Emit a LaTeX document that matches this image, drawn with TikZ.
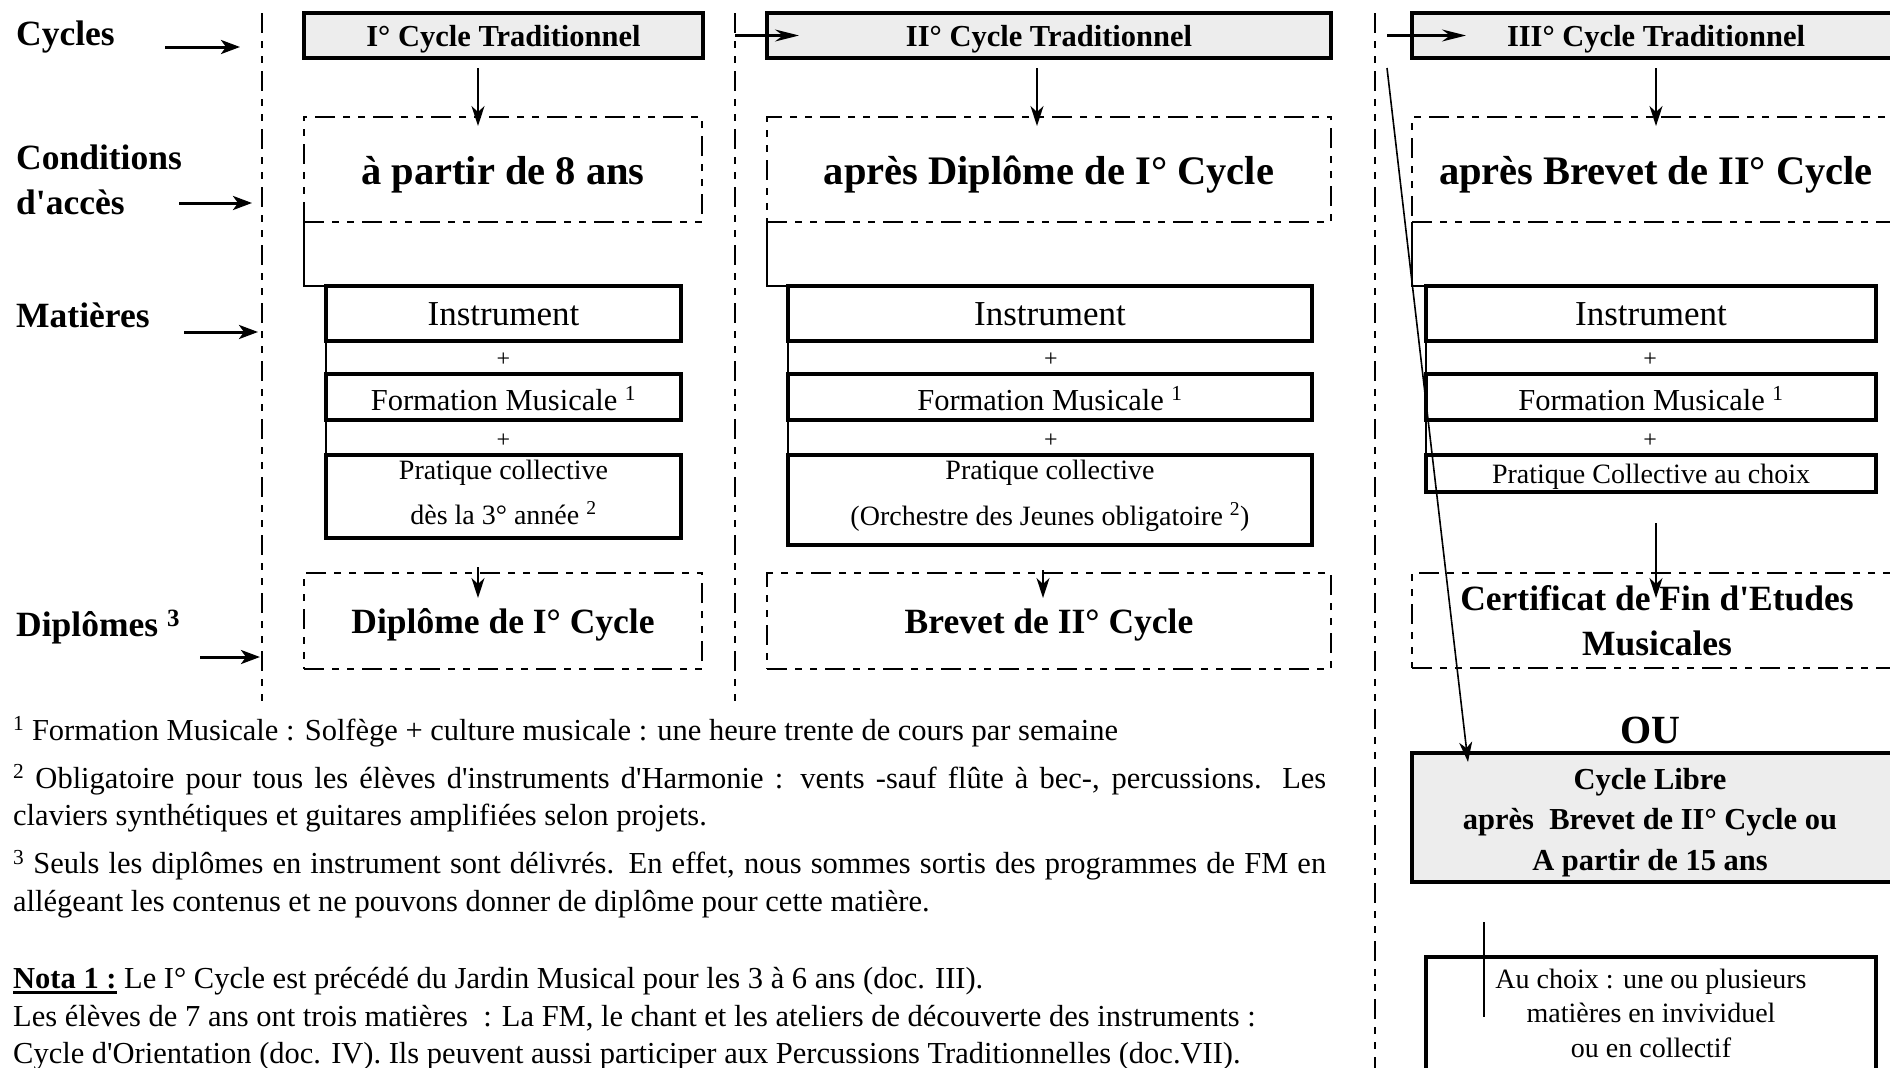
\documentclass[tikz,border=0pt]{standalone}
\usepackage{fontspec}
\setmainfont{Liberation Serif}
\newfontfamily\tnr{Liberation Serif}
\usetikzlibrary{arrows.meta}
\newcommand{\notaul}[1]{\leavevmode\setbox0\hbox{#1}\rlap{\rule[-5pt]{\wd0}{2.4pt}}\box0\relax}

\begin{document}
\begin{tikzpicture}[x=1pt,y=-1pt]
		\tnr
		\tikzstyle{gbox} = [draw, line width=4, fill=black!7, outer sep=0, inner sep=0]
		\tikzstyle{tbox} = [gbox, minimum height=45, font=\fontsize{30.5}{36}\selectfont\bfseries, text height=21pt, text depth=0pt]
		\tikzstyle{dbox} = [draw, line width=2.5, dash pattern=on 20pt off 8pt on 7pt off 8pt on 7pt off 8pt, outer sep=0, inner sep=0]
		\tikzstyle{condbox} = [dbox, minimum height=105, font=\fontsize{40.5}{48}\selectfont\bfseries, text height=30pt, text depth=0pt]
		\tikzstyle{diplbox} = [dbox, minimum height=96, font=\fontsize{35.5}{45}\selectfont\bfseries, text height=24pt, text depth=0pt]
		\tikzstyle{mbox} = [draw, line width=3.3, outer sep=0, inner sep=0]
		\tikzstyle{instbox} = [mbox, minimum height=55, font=\fontsize{35}{42}\selectfont, text height=23pt, text depth=0pt]
		\tikzstyle{fmbox} = [mbox, minimum height=46, font=\fontsize{30.5}{36}\selectfont, text height=26pt, text depth=0pt]
		\tikzstyle{divline} = [line width=2.5, dash pattern=on 20pt off 8pt on 7pt off 8pt on 7pt off 8pt]
		\tikzstyle{larrow} = [line width=3, -{Stealth[length=19pt,width=14pt,inset=5pt]}]
		\tikzstyle{harrow} = [line width=2.5, -{Stealth[length=24pt,width=12pt,inset=8pt]}]
		\tikzstyle{darrow} = [line width=1.6, -{Stealth[length=20pt,width=13pt,inset=6pt]}]
		\tikzstyle{link} = [line width=2.6]
		\tikzstyle{hair} = [line width=1.3]
		\tikzstyle{lbl} = [anchor=base west, inner sep=0, align=left, font=\fontsize{35.5}{45}\selectfont\bfseries]
		\tikzstyle{txt} = [anchor=base, inner sep=0, align=center]
		\tikzstyle{plussign} = [inner sep=0, font=\fontsize{24}{24}\selectfont]
		\tikzstyle{fnote} = [anchor=base west, inner sep=0, text width=1313pt, align=justify, font=\fontsize{30.5}{37.5}\selectfont]
		\useasboundingbox (0,0) rectangle (1890,1068);
		\clip (0,0) rectangle (1890,1068);
		% dividers
		\coordinate (d1t) at (262,13);
		\coordinate (d1b) at (262,703);
		\coordinate (d2t) at (735,13);
		\coordinate (d2b) at (735,703);
		\coordinate (d3t) at (1375,13);
		\coordinate (d3b) at (1375,1068);
		\draw [divline] (d1t) -- (d1b);
		\draw [divline] (d2t) -- (d2b);
		\draw [divline] (d3t) -- (d3b);
		% left labels (base = last line)
		\node [lbl] (lcyc) at (16,45) {Cycles};
		\node [lbl] (lcond) at (16,214) {Conditions\\d'accès};
		\node [lbl] (lmat) at (16,327) {Matières};
		\node [lbl] (ldip) at (16,636) {Diplômes \textsuperscript{3}};
		\coordinate (a1) at (165,47);
		\coordinate (a1e) at (240,47);
		\coordinate (a2) at (179,203);
		\coordinate (a2e) at (252,203);
		\coordinate (a3) at (184,332);
		\coordinate (a3e) at (258,332);
		\coordinate (a4) at (200,657);
		\coordinate (a4e) at (260,657);
		\draw [larrow] (a1) -- (a1e);
		\draw [larrow] (a2) -- (a2e);
		\draw [larrow] (a3) -- (a3e);
		\draw [larrow] (a4) -- (a4e);
		% cycles
		\node [tbox, minimum width=399] (cyc1) at (503.5,35.5) {I° Cycle Traditionnel};
		\node [tbox, minimum width=564] (cyc2) at (1049,35.5) {II° Cycle Traditionnel};
		\node [tbox, minimum width=488] (cyc3) at (1656,35.5) {III° Cycle Traditionnel};
		% conditions
		\node [condbox, minimum width=398] (cond1) at (503,169.5) {à partir de 8 ans};
		\node [condbox, minimum width=564] (cond2) at (1049,169.5) {après Diplôme de I° Cycle};
		\node [condbox, minimum width=488] (cond3) at (1656,169.5) {après Brevet de II° Cycle};
		% matieres
		\node [instbox, minimum width=355] (instr1) at (503.5,313.5) {Instrument};
		\node [instbox, minimum width=524] (instr2) at (1050,313.5) {Instrument};
		\node [instbox, minimum width=450] (instr3) at (1651,313.5) {Instrument};
		\node [plussign] (pl1a) at (503.5,360) {+};
		\node [plussign] (pl2a) at (1051,360) {+};
		\node [plussign] (pl3a) at (1650,360) {+};
		\node [fmbox, minimum width=355] (fm1) at (503.5,397) {Formation Musicale \textsuperscript{1}};
		\node [fmbox, minimum width=524] (fm2) at (1050,397) {Formation Musicale \textsuperscript{1}};
		\node [fmbox, minimum width=450] (fm3) at (1651,397) {Formation Musicale \textsuperscript{1}};
		\node [plussign] (pl1b) at (503.5,441) {+};
		\node [plussign] (pl2b) at (1051,441) {+};
		\node [plussign] (pl3b) at (1650,441) {+};
		\node [mbox, minimum width=355, minimum height=83] (prat1) at (503.5,496.5) {};
		\node [mbox, minimum width=524, minimum height=90] (prat2) at (1050,500) {};
		\node [mbox, minimum width=450, minimum height=37, font=\fontsize{28}{34}\selectfont, text height=19pt, text depth=0pt] (prat3) at (1651,473.5) {Pratique Collective au choix};
		\node [txt, font=\fontsize{28}{45}\selectfont] (prat1t) at (503.5,524) {Pratique collective\\dès la 3° année \textsuperscript{2}};
		\node [txt, font=\fontsize{28}{46}\selectfont] (prat2t) at (1050,525) {Pratique collective\\(Orchestre des Jeunes obligatoire \textsuperscript{2})};
		\draw [link] (cond1.south west) |- (instr1.north west);
		\draw [link] (cond2.south west) |- (instr2.north west);
		\draw [link] (cond3.south west) |- (instr3.north west);
		\draw [link] (instr1.south west) -- (prat1.north west);
		\draw [link] (instr2.south west) -- (prat2.north west);
		\draw [link] (instr3.south west) -- (prat3.north west);
		% diplomes
		\node [diplbox, minimum width=398] (dipl1) at (503,621) {Diplôme de I° Cycle};
		\node [diplbox, minimum width=564] (brev2) at (1049,621) {Brevet de II° Cycle};
		\node [dbox, minimum width=488, minimum height=95] (cert3) at (1656,620.5) {};
		\node [txt, font=\fontsize{35.5}{45}\selectfont\bfseries] (cert3t) at (1657,655) {Certificat de Fin d'Etudes\\Musicales};
		% cycle libre
		\node [txt, font=\fontsize{40}{48}\selectfont\bfseries] (ou) at (1650,743) {OU};
		\node [gbox, minimum width=488, minimum height=129] (libre) at (1656,817.5) {};
		\node [txt, font=\fontsize{30.5}{40.5}\selectfont\bfseries] (libret) at (1650,870) {Cycle Libre\\après\ \ Brevet de II° Cycle ou\\A partir de 15 ans};
		\node [mbox, minimum width=450, minimum height=126] (choix) at (1651,1020) {};
		\node [txt, font=\fontsize{28}{34.5}\selectfont] (choixt) at (1651,1057) {Au choix : une ou plusieurs\\matières en invividuel\\ou en collectif};
		% arrows
		\draw [harrow] ([xshift=32pt]cyc1.east) -- ([xshift=32pt]cyc2.west);
		\draw [harrow] ([xshift=56pt]cyc2.east) -- ([xshift=54pt]cyc3.west);
		\draw [darrow] ([xshift=-25.5pt,yshift=-10pt]cyc1.south) -- ([xshift=-25pt,yshift=-9pt]cond1.north);
		\draw [darrow] ([xshift=-12pt,yshift=-10pt]cyc2.south) -- ([xshift=-12pt,yshift=-9pt]cond2.north);
		\draw [darrow] ([yshift=-10pt]cyc3.south) -- ([yshift=-9pt]cond3.north);
		\draw [darrow] ([xshift=-25.5pt,yshift=-29pt]prat1.south) -- ([xshift=-25pt,yshift=-25pt]dipl1.north);
		\draw [darrow] ([xshift=-7pt,yshift=-25pt]prat2.south) -- ([xshift=-6pt,yshift=-25pt]brev2.north);
		\draw [darrow] ([xshift=5pt,yshift=-31pt]prat3.south) -- ([yshift=-25pt]cert3.north);
		\draw [darrow] ([xshift=-25pt,yshift=-10pt]cyc3.south west) -- ([xshift=56pt,yshift=-9pt]libre.north west);
		\draw [hair] ([xshift=72pt,yshift=-40pt]libre.south west) -- ([xshift=58pt,yshift=-60pt]choix.north west);
		% notes
		\node [fnote] (notes) at (13,740) {\parindent=0pt \parskip=10.5pt \tolerance=10000 \hyphenpenalty=10000 \exhyphenpenalty=10000
\textsuperscript{1} Formation Musicale : Solfège + culture musicale : une heure trente de cours par semaine\par
\textsuperscript{2} Obligatoire pour tous les élèves d'instruments d'Harmonie : vents -sauf flûte à bec-, percussions. Les\linebreak claviers synthétiques et guitares amplifiées selon projets.\par
\textsuperscript{3} Seuls les diplômes en instrument sont délivrés. En effet, nous sommes sortis des programmes de FM en\linebreak allégeant les contenus et ne pouvons donner de diplôme pour cette matière.\par
\parskip=0pt \fontsize{30.5}{36}\selectfont \vspace{40pt}
\notaul{\textbf{Nota 1 :}} Le I° Cycle est précédé du Jardin Musical pour les 3 à 6 ans (doc. III).\\
Les élèves de 7 ans ont trois matières\ \ : La FM, le chant et les ateliers de découverte des instruments :\\
Cycle d'Orientation (doc. IV). Ils peuvent aussi participer aux Percussions Traditionnelles (doc.VII).};
\end{tikzpicture}
\end{document}
